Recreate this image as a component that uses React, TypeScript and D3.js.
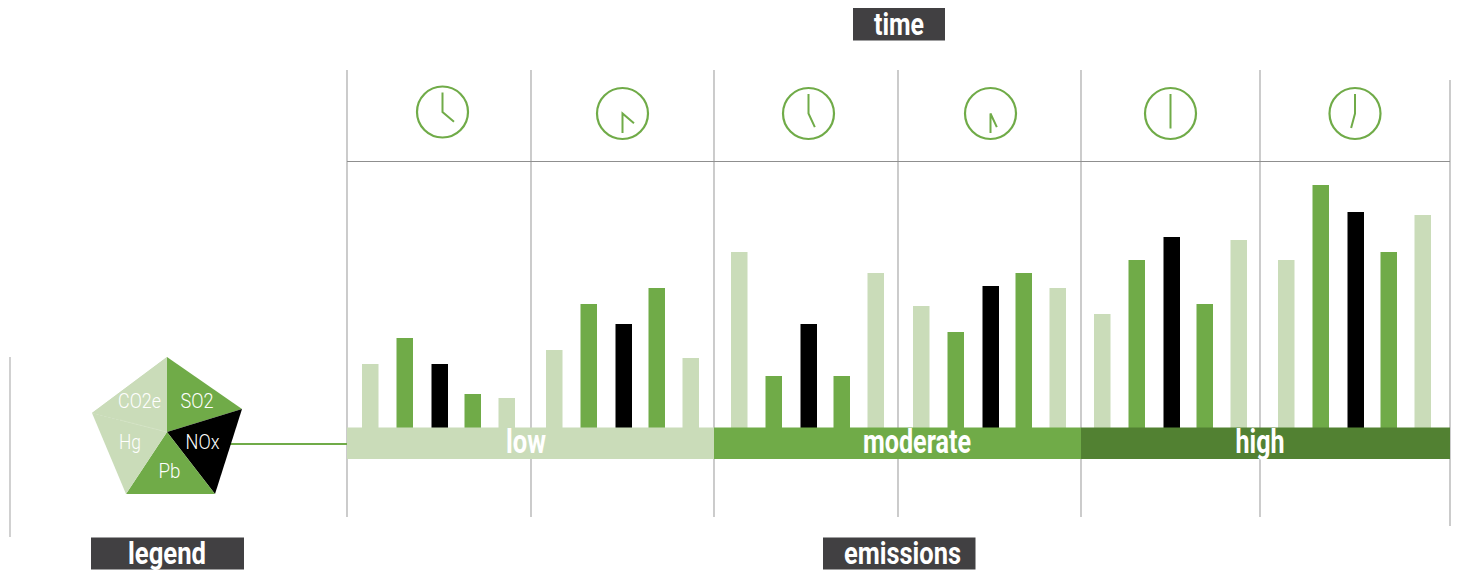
import React from "react";
import * as d3 from "d3";

const barSlots = ["a", "b", "c", "d", "e"];
const slot1 = [63, 89, 63, 33, 29];
const slot2 = [77, 123, 103, 139, 69];
const slot3 = [175, 51, 103, 51, 154];
const slot4 = [121, 95, 141, 154, 139];
const slot5 = [113, 167, 190, 123, 187];
const slot6 = [167, 242, 215, 175, 212];
const panelValues = [slot1, slot2, slot3, slot4, slot5, slot6];
const barKinds = ["light", "mid", "black", "mid", "light"];
const minuteAngles = [0, 180, 0, 180, 0, 0];
const hourAngles = [130, 130, 155, 155, 180, 195];
const levels = ["low", "moderate", "high"];

const W = 1461, H = 576;
const LIGHT = "#cadcb9", MID = "#70ab48", DARK = "#528132", BOX = "#414042";
const FONT = "'Roboto','Liberation Sans',sans-serif";
const gridX = [347, 531, 714, 898, 1081, 1260, 1450];
const barStart = [362, 546, 731, 913, 1094, 1278];
const slotOffsets = [0, 34.5, 69.5, 102.5, 136.5];
const clockX = [442.5, 622.5, 808.5, 990.5, 1170.5, 1355];
const clockY = [112, 113.5, 113.5, 113.5, 113.5, 113.5];
const levelEdges = [347, 714, 1081, 1450];
const levelCentres = [526, 917, 1260];
const labelWidths = [40, 108, 49];

const y = d3.scaleLinear().domain([0, 250]).range([427, 177]);
const slotX = d3.scaleOrdinal<string, number>().domain(barSlots).range(slotOffsets);
const kindColor: Record<string, string> = { light: LIGHT, mid: MID, black: "#000" };

function Box({ x, y, w, h, text, tw, tx }: any) {
  return (
    <g>
      <rect x={x} y={y} width={w} height={h} fill={BOX} />
      <text x={tx} y={y + h - 6} textAnchor="middle" fill="#fff" fontFamily={FONT} fontWeight={700} fontSize={31}
        textLength={tw} lengthAdjust="spacingAndGlyphs">{text}</text>
    </g>
  );
}

const pentCentre: [number, number] = [167, 432];
const pentPts: [number, number][] = [[167, 357], [242, 409], [215, 494], [126, 494], [92, 413]];
const pentFill = [MID, "#000", MID, LIGHT, LIGHT];
const pentLabels = [
  { t: "CO2e", x: 139.5, y: 408, w: 43 },
  { t: "SO2", x: 197, y: 408, w: 33 },
  { t: "NOx", x: 202.5, y: 449, w: 34 },
  { t: "Pb", x: 169.5, y: 478, w: 22 },
  { t: "Hg", x: 130, y: 449, w: 22 },
];

export default function App() {
  const poly = d3.line();
  return (
    <svg width={W} height={H} style={{ position: "absolute", left: 0, top: 0, background: "#fff" }}>
      <line x1={10} x2={10} y1={357} y2={537} stroke="#bdbdbd" strokeWidth={1.4} />
      {gridX.map((gx, i) => (
        <line key={gx} x1={gx} x2={gx} y1={i === 6 ? 80 : 70} y2={i === 6 ? 526 : 517} stroke="#b0b0b0" strokeWidth={1.3} />
      ))}
      <line x1={347} x2={1450} y1={161.5} y2={161.5} stroke="#8f8f8f" strokeWidth={1.2} />

      {clockX.map((cx, i) => {
        const cy = clockY[i];
        const pt = (deg: number, r: number): [number, number] => {
          const a = (deg * Math.PI) / 180;
          return [cx + r * Math.sin(a), cy - r * Math.cos(a)];
        };
        const m = pt(minuteAngles[i], 19.5);
        const h = pt(hourAngles[i], 15);
        return (
          <g key={i} fill="none" stroke={MID} strokeWidth={2.2}>
            <circle cx={cx} cy={cy} r={25.5} />
            <path d={poly([m, [cx, cy], h]) as string} strokeWidth={2} />
          </g>
        );
      })}

      {panelValues.map((vals, p) =>
        vals.map((v, i) => (
          <rect key={p + "-" + i} x={barStart[p] + slotX(barSlots[i])} y={y(v)} width={16.5} height={y(0) - y(v) + 1} fill={kindColor[barKinds[i]]} />
        ))
      )}

      {levels.map((l, i) => (
        <g key={l}>
          <rect x={levelEdges[i]} y={427.5} width={levelEdges[i + 1] - levelEdges[i]} height={31.5} fill={[LIGHT, MID, DARK][i]} />
          <text x={levelCentres[i]} y={453} textAnchor="middle" fill="#fff" fontFamily={FONT} fontWeight={700} fontSize={33}
            textLength={labelWidths[i]} lengthAdjust="spacingAndGlyphs">{l}</text>
        </g>
      ))}

      <line x1={230} x2={347} y1={444} y2={444} stroke={MID} strokeWidth={2} />
      {pentPts.map((pnt, i) => (
        <path key={i} d={poly([pentCentre, pnt, pentPts[(i + 1) % 5]]) + "Z"} fill={pentFill[i]} />
      ))}
      <path d={poly([pentCentre, pentPts[0], pentPts[4]]) + "Z"} fill={LIGHT} />
      <line x1={120} x2={167} y1={420} y2={432} stroke="#d6e4c8" strokeWidth={0.5} />
      {pentLabels.map(l => (
        <text key={l.t} x={l.x} y={l.y} textAnchor="middle" fill="#fff" fontFamily={FONT} fontWeight={300} fontSize={21}
          textLength={l.w} lengthAdjust="spacingAndGlyphs">{l.t}</text>
      ))}

      <Box x={853} y={8} w={92} h={32.5} text="time" tw={50} tx={899} />
      <Box x={91} y={537.5} w={153} h={32} text="legend" tw={78} tx={167} />
      <Box x={823} y={537.5} w={152.5} h={32} text="emissions" tw={117} tx={902.5} />
    </svg>
  );
}
